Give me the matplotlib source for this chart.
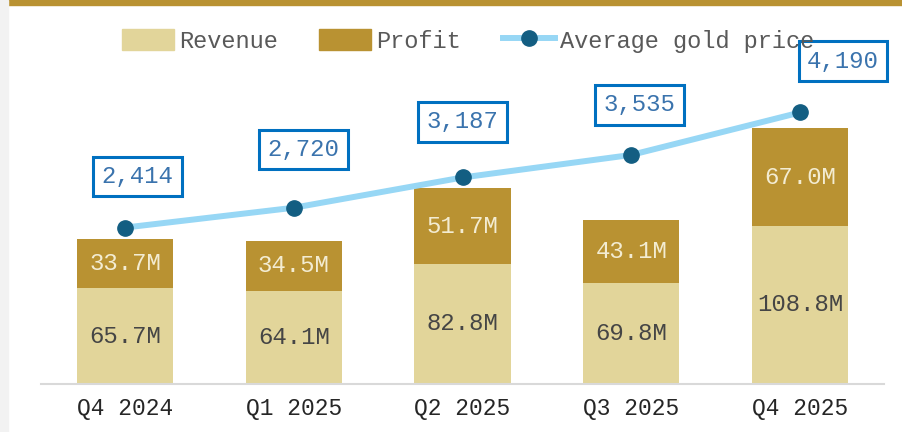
import matplotlib
matplotlib.use("Agg")
import matplotlib.pyplot as plt
from matplotlib.patches import Rectangle
from matplotlib.lines import Line2D
import numpy as np

quarters = ["Q4 2024", "Q1 2025", "Q2 2025", "Q3 2025", "Q4 2025"]
revenue = [65.7, 64.1, 82.8, 69.8, 108.8]
profit = [33.7, 34.5, 51.7, 43.1, 67.0]
gold_price = [2414, 2720, 3187, 3535, 4190]

# label box offsets in points (dx, dy)
label_offsets = [(9, 37), (7, 42), (0, 40), (6, 36), (31, 37)]

C_REV = "#E2D59A"
C_PROF = "#B99232"
C_LINE = "#97D7F5"
C_MARK = "#135E82"
C_BOX = "#0070C0"
C_BOXTXT = "#3A73AD"

plt.rcParams['font.family'] = ['Liberation Mono', 'DejaVu Sans Mono']
FS_TICK = 16.5
FS_LAB = 17.3
FS_LEG = 17

fig = plt.figure(figsize=(9.02, 4.32), dpi=100)
ax = fig.add_axes([40.6/902, 1-384/432, (884.4-40.6)/902, 354/432])

x = np.arange(len(quarters))
w = 0.57
b1 = ax.bar(x, revenue, w, color=C_REV, zorder=2)
b2 = ax.bar(x, profit, w, bottom=revenue, color=C_PROF, zorder=2)
ax.bar_label(b1, labels=[f"{v:.1f}M" for v in revenue], label_type='center',
             color="#454545", fontsize=FS_LAB)
ax.bar_label(b2, labels=[f"{v:.1f}M" for v in profit], label_type='center',
             color="#F3ECD2", fontsize=FS_LAB)

ax.set_xlim(-0.5, len(quarters)-0.5)
ax.set_ylim(0, 243.5)
ax.set_xticks(x)
ax.set_xticklabels(quarters, fontsize=FS_TICK, color="#262626")
ax.tick_params(axis='x', length=0, pad=9)
ax.set_yticks([])
for s in ['top', 'right', 'left']:
    ax.spines[s].set_visible(False)
ax.spines['bottom'].set_color("#D9D9D9")
ax.spines['bottom'].set_linewidth(1.5)

ax2 = ax.twinx()
ax2.set_ylim(0, 5463)
ax2.plot(x, gold_price, color=C_LINE, lw=4.3, marker='o', ms=11,
         markerfacecolor=C_MARK, markeredgecolor=C_MARK, zorder=3)
for xi, v, (dx, dy) in zip(x, gold_price, label_offsets):
    ax2.annotate(f"{v:,}", (xi, v), xytext=(dx, dy), textcoords='offset points',
                 ha='center', va='center', fontsize=FS_LAB, color=C_BOXTXT,
                 bbox=dict(boxstyle='square,pad=0.34', fc='white', ec=C_BOX, lw=2.2))
ax2.set_yticks([])
for s in ax2.spines.values():
    s.set_visible(False)

handles = [Rectangle((0, 0), 1, 1, color=C_REV),
           Rectangle((0, 0), 1, 1, color=C_PROF),
           Line2D([], [], color=C_LINE, lw=4.3, marker='o', ms=11,
                  markerfacecolor=C_MARK, markeredgecolor=C_MARK)]
leg = fig.legend(handles, ["Revenue", "Profit", "Average gold price"], ncol=3,
                 loc='center', bbox_to_anchor=(468/902, 1-41/432), frameon=False,
                 fontsize=FS_LEG, handlelength=2.2, handleheight=1.0, handletextpad=0.22,
                 columnspacing=1.75, labelcolor="#595959")

fig.patches.append(Rectangle((8/902, 1-5/432), 1, 5/432, transform=fig.transFigure,
                             color=C_PROF, zorder=0))
fig.patches.append(Rectangle((0, 0), 8/902, 1, transform=fig.transFigure,
                             color="#F2F2F2", zorder=0))

fig.savefig("out.png", dpi=100)
